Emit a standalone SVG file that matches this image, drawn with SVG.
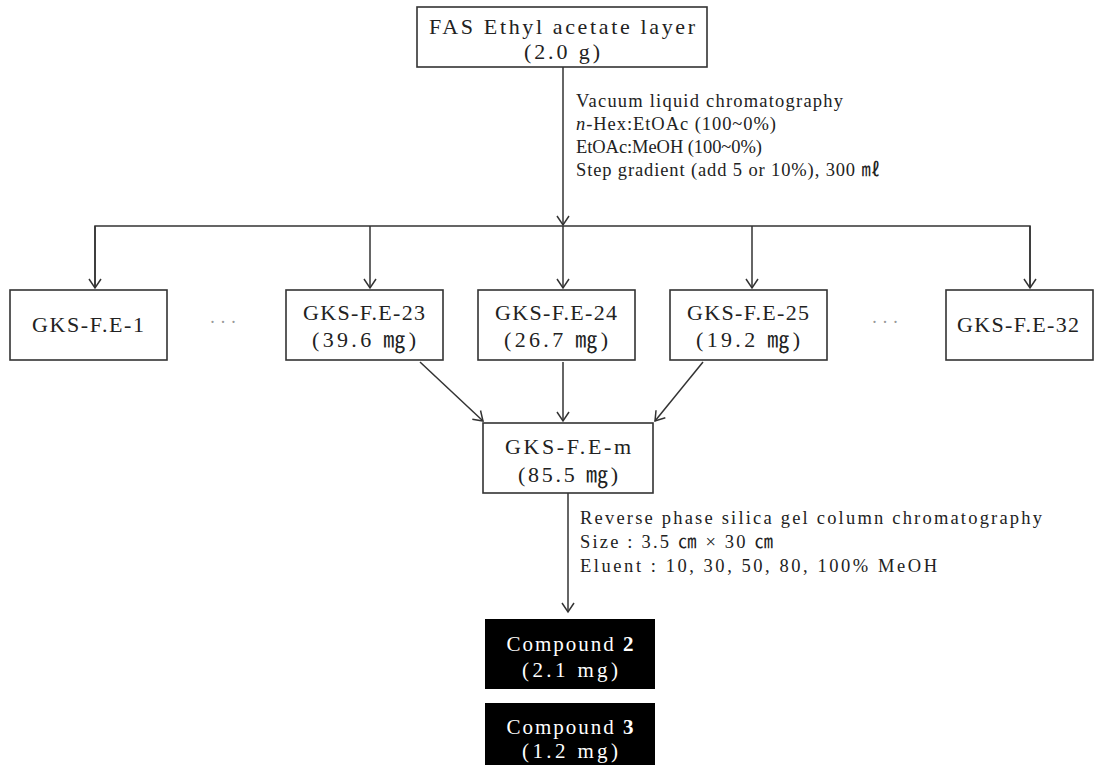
<svg xmlns="http://www.w3.org/2000/svg" width="1098" height="768" viewBox="0 0 1098 768">
<defs>
<marker id="arr" viewBox="0 0 20 20" refX="10" refY="10" markerWidth="20" markerHeight="20" markerUnits="userSpaceOnUse" orient="auto">
<polyline points="1,4 10,10 1,16" fill="none" stroke="#333" stroke-width="1.5"/>
</marker>
<style>
.box{fill:#fff;stroke:#333;stroke-width:1.6}
.dark{fill:#000;stroke:none}
.t{font-family:"Liberation Serif","Noto Sans CJK KR",serif;font-size:22px;fill:#222}
.c{text-anchor:middle}
.w{fill:#fff;font-size:21px}
.a{font-family:"Liberation Serif","Noto Sans CJK KR",serif;font-size:18.5px;fill:#222}
.dots{font-family:"Liberation Serif",serif;font-size:18px;fill:#999;text-anchor:middle}
.ln{fill:none;stroke:#333;stroke-width:1.5}
</style>
</defs>
<rect width="1098" height="768" fill="#fff"/>

<g id="connectors">
<line class="ln" x1="563" y1="67" x2="563" y2="225" marker-end="url(#arr)"/>
<polyline class="ln" points="95,288 95,226 1030,226 1030,288"/>
<line class="ln" x1="95" y1="226" x2="95" y2="288" marker-end="url(#arr)"/>
<line class="ln" x1="370" y1="226" x2="370" y2="288" marker-end="url(#arr)"/>
<line class="ln" x1="563" y1="226" x2="563" y2="288" marker-end="url(#arr)"/>
<line class="ln" x1="752" y1="226" x2="752" y2="288" marker-end="url(#arr)"/>
<line class="ln" x1="1030" y1="226" x2="1030" y2="288" marker-end="url(#arr)"/>
<line class="ln" x1="420" y1="362" x2="483" y2="421" marker-end="url(#arr)"/>
<line class="ln" x1="563" y1="362" x2="563" y2="421" marker-end="url(#arr)"/>
<line class="ln" x1="703" y1="362" x2="655" y2="421" marker-end="url(#arr)"/>
<line class="ln" x1="568" y1="493" x2="568" y2="612" marker-end="url(#arr)"/>
</g>

<g id="n-top">
<rect class="box" x="417" y="7" width="290" height="60"/>
<text class="t c" x="562" y="34" textLength="266">FAS Ethyl acetate layer</text>
<text class="t c" x="562" y="59" textLength="76">(2.0 g)</text>
</g>

<g id="vlc-label">
<text class="a" x="576" y="107" textLength="267">Vacuum liquid chromatography</text>
<text class="a" x="576" y="130" textLength="200"><tspan font-style="italic">n</tspan>-Hex:EtOAc (100~0%)</text>
<text class="a" x="576" y="153" textLength="186">EtOAc:MeOH (100~0%)</text>
<text class="a" x="576" y="176" textLength="304">Step gradient (add 5 or 10%), 300 ㎖</text>
</g>

<g id="n-1">
<rect class="box" x="10" y="290" width="157" height="70"/>
<text class="t c" x="88" y="332" textLength="112">GKS-F.E-1</text>
</g>

<text class="dots" x="223" y="328">· · ·</text>

<g id="n-23">
<rect class="box" x="286" y="290" width="157" height="70"/>
<text class="t c" x="364" y="320" textLength="122">GKS-F.E-23</text>
<text class="t c" x="364" y="347" textLength="104">(39.6 ㎎)</text>
</g>

<g id="n-24">
<rect class="box" x="478" y="290" width="157" height="70"/>
<text class="t c" x="556" y="320" textLength="122">GKS-F.E-24</text>
<text class="t c" x="556" y="347" textLength="104">(26.7 ㎎)</text>
</g>

<g id="n-25">
<rect class="box" x="670" y="290" width="157" height="70"/>
<text class="t c" x="748" y="320" textLength="122">GKS-F.E-25</text>
<text class="t c" x="748" y="347" textLength="104">(19.2 ㎎)</text>
</g>

<text class="dots" x="885" y="328">· · ·</text>

<g id="n-32">
<rect class="box" x="946" y="290" width="147" height="70"/>
<text class="t c" x="1018" y="332" textLength="122">GKS-F.E-32</text>
</g>

<g id="n-m">
<rect class="box" x="483" y="423" width="170" height="70"/>
<text class="t c" x="568" y="454" textLength="126">GKS-F.E-m</text>
<text class="t c" x="568" y="482" textLength="100">(85.5 ㎎)</text>
</g>

<g id="rp-label">
<text class="a" x="580" y="524" textLength="462">Reverse phase silica gel column chromatography</text>
<text class="a" x="580" y="548" textLength="193">Size : 3.5 ㎝ × 30 ㎝</text>
<text class="a" x="580" y="572" textLength="357">Eluent : 10, 30, 50, 80, 100% MeOH</text>
</g>

<g id="n-c2">
<rect class="dark" x="485" y="619" width="170" height="70"/>
<text class="t c w" x="570" y="651" textLength="127">Compound <tspan font-weight="bold">2</tspan></text>
<text class="t c w" x="570" y="677" textLength="96">(2.1 mg)</text>
</g>

<g id="n-c3">
<rect class="dark" x="485" y="703" width="170" height="62"/>
<text class="t c w" x="570" y="734" textLength="127">Compound <tspan font-weight="bold">3</tspan></text>
<text class="t c w" x="570" y="758" textLength="96">(1.2 mg)</text>
</g>
</svg>
